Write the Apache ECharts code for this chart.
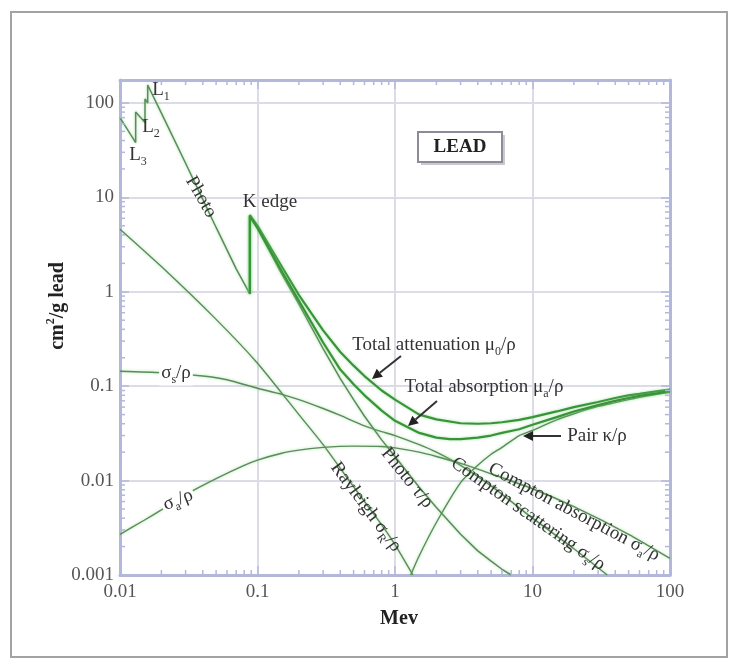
<!DOCTYPE html>
<html>
<head>
<meta charset="utf-8">
<script src="https://cdn.jsdelivr.net/npm/echarts@6/dist/echarts.min.js"></script>
<style>
html,body{margin:0;padding:0;background:#fff;}
#chart{width:740px;height:661px;}
</style>
</head>
<body>
<div id="chart"></div>
<script>
// Mass interaction coefficients of lead (cm²/g) against photon energy (MeV)

const photo = [[0.01,70],[0.013,38],[0.013,80],[0.0152,62],[0.0152,110],[0.0159,100],[0.0159,155],
  [0.02,78],[0.03,23],[0.05,4.8],[0.07,1.75],[0.088,0.95],[0.088,6.3],[0.1,4.7],[0.15,1.55],
  [0.2,0.74],[0.3,0.25],[0.4,0.12],[0.5,0.072],[0.6,0.048],[0.8,0.027],[1,0.018],[1.5,0.0085],
  [2,0.0052],[3,0.0027],[4,0.0018],[5,0.0014],[6,0.00115],[7,0.001]];

const totalAttenuation = [[0.088,0.95],[0.088,6.5],[0.1,5.0],[0.15,1.85],[0.2,0.92],[0.3,0.39],
  [0.4,0.23],[0.5,0.165],[0.6,0.128],[0.8,0.09],[1,0.072],[1.5,0.050],[2,0.0445],[3,0.0405],
  [4,0.040],[5,0.0405],[6,0.0415],[8,0.044],[10,0.047],[15,0.054],[20,0.060],[30,0.068],
  [40,0.075],[50,0.080],[60,0.083],[80,0.088],[100,0.092]];

const totalAbsorption = [[0.088,0.95],[0.088,6.3],[0.1,4.75],[0.15,1.65],[0.2,0.8],[0.3,0.29],
  [0.4,0.15],[0.5,0.105],[0.6,0.08],[0.8,0.055],[1,0.043],[1.5,0.032],[2,0.0285],[2.5,0.0275],
  [3,0.0275],[4,0.0285],[5,0.030],[6,0.032],[8,0.035],[10,0.039],[15,0.047],[20,0.054],
  [30,0.063],[40,0.070],[50,0.075],[60,0.079],[80,0.084],[100,0.089]];

const rayleigh = [[0.01,4.6],[0.02,1.85],[0.05,0.51],[0.1,0.175],[0.2,0.05],[0.3,0.024],
  [0.5,0.0086],[0.8,0.0034],[1,0.0021],[1.35,0.001]];

const comptonScattering = [[0.01,0.144],[0.02,0.139],[0.04,0.128],[0.06,0.117],[0.1,0.095],
  [0.15,0.082],[0.2,0.072],[0.3,0.058],[0.4,0.049],[0.6,0.038],[0.8,0.033],[1,0.030],
  [1.5,0.024],[2,0.020],[3,0.0145],[5,0.0088],[10,0.0040],[20,0.0019],[35,0.001]];

const comptonAbsorption = [[0.01,0.0027],[0.015,0.0038],[0.02,0.0049],[0.03,0.0071],[0.05,0.0105],
  [0.08,0.0145],[0.1,0.0165],[0.15,0.0195],[0.2,0.021],[0.3,0.0225],[0.5,0.0232],[0.8,0.023],
  [1,0.0222],[1.5,0.020],[2,0.018],[3,0.0152],[5,0.0118],[10,0.0082],[20,0.0053],[50,0.0027],
  [100,0.0015]];

const pair = [[1.3,0.001],[1.5,0.0016],[2,0.0036],[3,0.0095],[4,0.0145],[5,0.019],[6,0.0225],
  [8,0.030],[10,0.034],[15,0.044],[20,0.051],[30,0.061],[40,0.067],[50,0.072],[60,0.076],
  [80,0.082],[100,0.086]];

const xTickLabels = ['0.01','0.1','1','10','100'];
const yTickLabels = ['0.001','0.01','0.1','1','10','100'];

const X_MIN = 0.01, X_MAX = 100, Y_MIN = 0.001, Y_MAX = 175;
const AXIS_COLOR = '#b3b8da';
const GRID_COLOR = '#dcdce6';
const SERIF = '"Liberation Serif", "DejaVu Serif", serif';
const TEXT_SIZE = 19;

function tickText(list) {
  return function (v) {
    for (const s of list) {
      if (Math.abs(Number(s) - v) / Number(s) < 1e-6) return s;
    }
    return '';
  };
}

// minor ticks at 2..9 of each decade, drawn inward on all four sides
const minorTicks = [];
[0.01, 0.1, 1, 10].forEach(d => { for (let k = 2; k <= 9; k++) minorTicks.push([d * k, Y_MIN, 0]); });
[0.001, 0.01, 0.1, 1, 10].forEach(d => { for (let k = 2; k <= 9; k++) minorTicks.push([X_MIN, d * k, 1]); });

function renderMinorTick(params, api) {
  const L = 5;
  const st = { stroke: AXIS_COLOR, lineWidth: 1.5 };
  if (api.value(2) === 0) {
    const p = api.coord([api.value(0), Y_MIN]);
    const q = api.coord([api.value(0), Y_MAX]);
    return { type: 'group', children: [
      { type: 'line', shape: { x1: p[0], y1: p[1], x2: p[0], y2: p[1] - L }, style: st },
      { type: 'line', shape: { x1: q[0], y1: q[1], x2: q[0], y2: q[1] + L }, style: st }
    ]};
  }
  const p = api.coord([X_MIN, api.value(1)]);
  const q = api.coord([X_MAX, api.value(1)]);
  return { type: 'group', children: [
    { type: 'line', shape: { x1: p[0], y1: p[1], x2: p[0] + L, y2: p[1] }, style: st },
    { type: 'line', shape: { x1: q[0], y1: q[1], x2: q[0] - L, y2: q[1] }, style: st }
  ]};
}

function curve(name, data, color, width, smooth, z) {
  return {
    name, type: 'line', data, showSymbol: false, smooth: smooth || false,
    z: z || 2, silent: true,
    lineStyle: { color, width, shadowColor: 'rgba(130,210,130,0.7)', shadowBlur: 3 }
  };
}

const THIN = '#5a8c5a';
const THICK = '#389438';

// cw: clockwise rotation in degrees
function label(text, x, y, cw, size, opts) {
  opts = opts || {};
  size = size || TEXT_SIZE;
  const small = Math.round(size * 0.62);
  return {
    type: 'text', x, y, rotation: -(cw || 0) * Math.PI / 180, z: 100,
    style: {
      text, x: 0, y: 0, align: 'center', verticalAlign: 'middle',
      fontFamily: SERIF, fontSize: size, fontWeight: opts.bold ? 'bold' : 'normal',
      fill: opts.color || '#333', lineHeight: size + 6,
      backgroundColor: opts.bg, padding: opts.bg ? [0, 2] : 0,
      rich: {
        sub: { fontSize: small, lineHeight: small, verticalAlign: 'bottom', fontFamily: SERIF,
               fontWeight: opts.bold ? 'bold' : 'normal', fill: opts.color || '#333' },
        sup: { fontSize: small, lineHeight: small, verticalAlign: 'top', fontFamily: SERIF,
               fontWeight: opts.bold ? 'bold' : 'normal', fill: opts.color || '#333' }
      }
    }
  };
}

function arrow(x1, y1, x2, y2) {
  const a = Math.atan2(y2 - y1, x2 - x1), h = 10, w = 5;
  const bx = x2 - h * Math.cos(a), by = y2 - h * Math.sin(a);
  return [
    { type: 'line', z: 100, shape: { x1, y1, x2: bx, y2: by }, style: { stroke: '#333', lineWidth: 2 } },
    { type: 'polygon', z: 100, shape: { points: [[x2, y2],
        [bx + w * Math.sin(a), by - w * Math.cos(a)], [bx - w * Math.sin(a), by + w * Math.cos(a)]] },
      style: { fill: '#222' } }
  ];
}

const chart = echarts.init(document.getElementById('chart'), null, { renderer: 'canvas' });

const axisCommon = {
  axisLine: { show: true, lineStyle: { color: AXIS_COLOR, width: 3 } },
  axisTick: { show: true, inside: true, length: 9, lineStyle: { color: AXIS_COLOR, width: 1.5 } },
  minorTick: { show: false },
  minorSplitLine: { show: false }
};

chart.setOption({
  animation: false,
  backgroundColor: '#fff',
  grid: { left: 120, right: 70, top: 80, bottom: 86, containLabel: false },
  xAxis: [
    Object.assign({
      type: 'log', logBase: 10, min: X_MIN, max: X_MAX, position: 'bottom',
      splitLine: { show: true, lineStyle: { color: GRID_COLOR, width: 2 } },
      axisLabel: { formatter: tickText(xTickLabels), fontFamily: SERIF, fontSize: 19, color: '#555', margin: 8 }
    }, axisCommon),
    Object.assign({
      type: 'log', logBase: 10, min: X_MIN, max: X_MAX, position: 'top',
      splitLine: { show: false }, axisLabel: { show: false }
    }, axisCommon)
  ],
  yAxis: [
    Object.assign({
      type: 'log', logBase: 10, min: Y_MIN, max: Y_MAX, position: 'left',
      splitLine: { show: true, lineStyle: { color: GRID_COLOR, width: 2 } },
      axisLabel: { formatter: tickText(yTickLabels), fontFamily: SERIF, fontSize: 19, color: '#555', margin: 6 }
    }, axisCommon),
    Object.assign({
      type: 'log', logBase: 10, min: Y_MIN, max: Y_MAX, position: 'right',
      splitLine: { show: false }, axisLabel: { show: false }
    }, axisCommon)
  ],
  series: [
    { type: 'custom', renderItem: renderMinorTick, data: minorTicks, silent: true, clip: false, z: 5 },
    curve('Rayleigh', rayleigh, THIN, 1.4, 0.2),
    curve('Compton scattering', comptonScattering, THIN, 1.4, 0.2),
    curve('Compton absorption', comptonAbsorption, THIN, 1.4, 0.2),
    curve('Pair', pair, THIN, 1.4, 0.2),
    curve('Photo', photo, THIN, 1.5),
    curve('Total attenuation', totalAttenuation, THICK, 2.2, false, 3),
    curve('Total absorption', totalAbsorption, THICK, 2.2, false, 3)
  ],
  graphic: [
    // outer frame
    { type: 'rect', shape: { x: 11, y: 12, width: 716, height: 645 }, style: { fill: 'none', stroke: '#a3a3a3', lineWidth: 2 }, z: 0 },
    // element box
    { type: 'rect', shape: { x: 421, y: 135, width: 84, height: 30 }, style: { fill: '#c9c9d2' }, z: 90 },
    { type: 'rect', shape: { x: 418, y: 132, width: 84, height: 30 }, style: { fill: '#fff', stroke: '#8c8c98', lineWidth: 2 }, z: 91 },
    label('LEAD', 460, 147, 0, 19, { bold: true, color: '#222' }),
    // axis titles
    label('Mev', 399, 619, 0, 20, { bold: true, color: '#222' }),
    label('cm{sup|2}/g lead', 58, 306, -90, 20, { bold: true, color: '#222' }),
    // curve annotations
    label('L{sub|1}', 161, 90, 0),
    label('L{sub|2}', 151, 127, 0),
    label('L{sub|3}', 138, 155, 0),
    label('K edge', 270, 202, 0),
    label('Photo', 201, 197, 60),
    label('σ{sub|s}/ρ', 176, 373, 0, TEXT_SIZE, { bg: '#fff' }),
    label('σ{sub|a}/ρ', 178, 500, -22, TEXT_SIZE, { bg: '#fff' }),
    label('Total attenuation μ{sub|0}/ρ', 434, 345, 0),
    label('Total absorption μ{sub|a}/ρ', 484, 387, 0),
    label('Pair κ/ρ', 597, 436, 0),
    label('Rayleigh σ{sub|R}/ρ', 366, 507, 53.5),
    label('Photo τ/ρ', 407, 478, 51),
    label('Compton absorption σ{sub|a}/ρ', 574, 512, 27.8),
    label('Compton scattering σ{sub|s}/ρ', 528, 514, 35)
  ].concat(arrow(401, 356, 372, 379), arrow(437, 401, 408, 426), arrow(561, 436, 523, 436))
});
</script>
</body>
</html>
